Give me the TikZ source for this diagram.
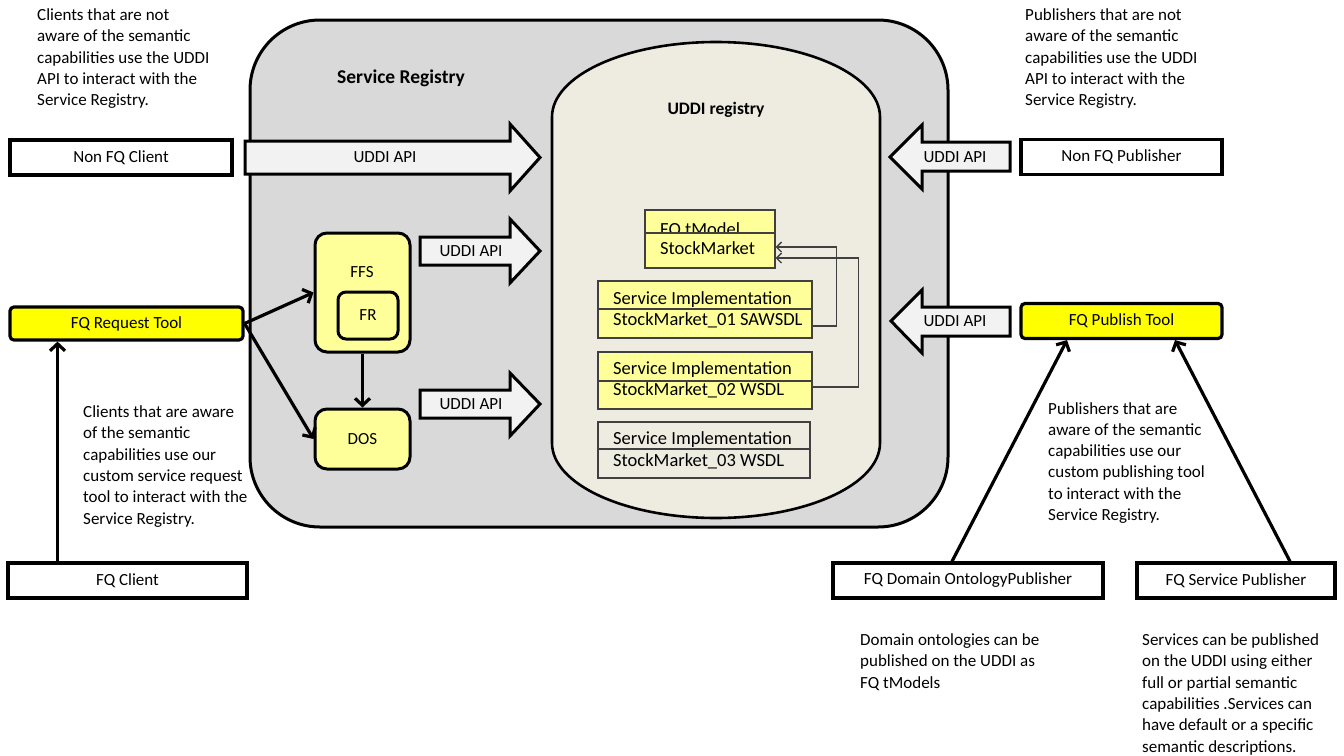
\documentclass[tikz,border=0pt]{standalone}
\usepackage{fontspec}
\setmainfont{Carlito}
\usepackage{tikz}
\usetikzlibrary{arrows.meta}

\definecolor{regGray}{HTML}{D9D9D9}
\definecolor{canFill}{HTML}{EEECE1}
\definecolor{procYellow}{HTML}{FFFF99}
\definecolor{toolYellow}{HTML}{FFFF00}
\definecolor{arrowFill}{HTML}{F2F2F2}
\definecolor{entryGray}{HTML}{404040}

\begin{document}
\begin{tikzpicture}[x=1pt,y=-1pt,
  every node/.style={font=\fontsize{17}{21.3}\selectfont},
  actor/.style={draw=black, line width=3.2pt, fill=white, minimum height=35pt, inner sep=0pt},
  tool/.style={actor, fill=toolYellow, rounded corners=4pt},
  proc/.style={draw=black, line width=3pt, fill=procYellow, rounded corners=12pt, inner sep=0pt},
  entry/.style={draw=entryGray, line width=1.3pt, fill=procYellow, minimum width=214pt, minimum height=57pt, inner sep=0pt},
  entrytext/.style={anchor=base west, inner sep=0pt, font=\fontsize{18.5}{20}\selectfont},
  note/.style={anchor=north west, align=left, inner sep=0pt},
  flow/.style={line width=3.2pt, -{Straight Barb[length=7pt,width=15pt]}},
  link/.style={draw=entryGray, line width=1.3pt, -{Straight Barb[length=5pt,width=10pt]}},
  apiarrow/.style={draw=black, line width=3pt, fill=arrowFill, line join=miter}]

\useasboundingbox (0,0) rectangle (1344,755);

% service registry
\filldraw[draw=black, line width=3pt, fill=regGray, rounded corners=70pt] (250,20) rectangle (948,527);
\node[font=\bfseries\fontsize{19.5}{22}\selectfont] (reglbl) at (401,78) {Service Registry};

% UDDI registry can
\filldraw[draw=black, line width=2.6pt, fill=canFill] (552,117) -- (552,443)
  arc[start angle=180, end angle=360, x radius=164pt, y radius=75pt] -- (880,117)
  arc[start angle=0, end angle=180, x radius=164pt, y radius=75pt] -- cycle;
\node[font=\bfseries\fontsize{17.5}{20}\selectfont] (canlbl) at (716,110) {UDDI registry};

% UDDI API arrows
\filldraw[apiarrow] (245,141) -- (510,141) -- (510,124) -- (540,157.5) -- (510,191) -- (510,174) -- (245,174) -- cycle;
\node (api1) at (385,157.5) {UDDI API};
\filldraw[apiarrow] (420,237) -- (510,237) -- (510,219) -- (540,251) -- (510,283) -- (510,265) -- (420,265) -- cycle;
\node (api2) at (471,251) {UDDI API};
\filldraw[apiarrow] (420,390) -- (510,390) -- (510,373) -- (540,404) -- (510,436) -- (510,418) -- (420,418) -- cycle;
\node (api3) at (471,404) {UDDI API};
\filldraw[apiarrow] (1010,142) -- (922,142) -- (922,125) -- (890,157) -- (922,189) -- (922,171) -- (1010,171) -- cycle;
\node (api4) at (955,157) {UDDI API};
\filldraw[apiarrow] (1010,307) -- (922,307) -- (922,290) -- (891,321) -- (922,353) -- (922,336) -- (1010,336) -- cycle;
\node (api5) at (955,321) {UDDI API};

% entries of the registry
\node[entry, minimum width=130pt, minimum height=58pt] (tmodel) at (710,239) {};
\begin{scope}
  \clip (645,210) rectangle (775,233);
  \node[anchor=north west, inner sep=0pt, font=\fontsize{18.5}{20}\selectfont] (tmodellbl) at (660,222) {FQ tModel};
\end{scope}
\draw[entryGray, line width=1.3pt] (645,233) -- (775,233);
\node[entrytext] (tmodelname) at (660,254) {StockMarket};

\node[entry] (impl1) at (705,309.5) {};
\draw[entryGray, line width=1.3pt] (598,309) -- (812,309);
\node[entrytext] (impl1top) at (613,304) {Service Implementation};
\node[entrytext] (impl1name) at (613,325) {StockMarket\_01 SAWSDL};

\node[entry] (impl2) at (705,380.5) {};
\draw[entryGray, line width=1.3pt] (598,381) -- (812,381);
\node[entrytext] (impl2top) at (613,374) {Service Implementation};
\node[entrytext] (impl2name) at (613,395) {StockMarket\_02 WSDL};

\node[entry, fill=canFill, minimum width=212pt, minimum height=56pt] (impl3) at (704,450) {};
\draw[entryGray, line width=1.3pt] (598,449) -- (810,449);
\node[entrytext] (impl3top) at (613,444) {Service Implementation};
\node[entrytext] (impl3name) at (613,466) {StockMarket\_03 WSDL};

\draw[link] ([yshift=-16.5pt]impl1.east) -- ++(24,0) |- ([yshift=-8pt]tmodel.east);
\draw[link] ([yshift=-6.5pt]impl2.east) -- ++(46,0) |- ([yshift=-19pt]tmodel.east);

% FFS, FR and DOS
\node[proc, minimum width=95pt, minimum height=119pt] (ffs) at (362.5,292.5) {};
\node (ffslbl) at (362,272) {FFS};
\node[proc, rounded corners=8pt, minimum width=60pt, minimum height=47pt] (fr) at (368,315.5) {FR};
\node[proc, minimum width=95pt, minimum height=60pt] (dos) at (362.5,439) {DOS};

% clients and publishers
\node[actor, minimum width=222pt] (nonclient) at (121,157.5) {Non FQ Client};
\node[tool, minimum width=233pt, minimum height=33pt] (reqtool) at (126.5,323.5) {FQ Request Tool};
\node[actor, minimum width=239pt] (fqclient) at (127.5,580.5) {FQ Client};
\node[actor, minimum width=201pt] (nonpub) at (1121.5,157) {Non FQ Publisher};
\node[tool, minimum width=201pt] (pubtool) at (1121.5,321) {FQ Publish Tool};
\node[actor, minimum width=270pt] (ontopub) at (968,580.5) {FQ Domain OntologyPublisher};
\node[actor, minimum width=198pt] (servpub) at (1236,580.5) {FQ Service Publisher};

\draw[flow] (reqtool.east) -- (ffs.west);
\draw[flow] (reqtool.east) -- (dos.west);
\draw[flow] (ffs.south) -- (dos.north);
\coordinate (reqfoot) at ([xshift=-69pt]reqtool.south);
\draw[flow] (fqclient.north -| reqfoot) -- (reqfoot);
\draw[flow] ([xshift=-16pt]ontopub.north) -- ([xshift=-54.5pt]pubtool.south);
\draw[flow] ([xshift=54pt]servpub.north) -- ([xshift=53.5pt]pubtool.south);

% notes
\node[note] (clientnote) at (37,8.5) {Clients that are not\\aware of the semantic\\capabilities use the UDDI\\API to interact with the\\Service Registry.};
\node[note] (pubnote) at (1025,8.5) {Publishers that are not\\aware of the semantic\\capabilities use the UDDI\\API to interact with the\\Service Registry.};
\node[note] (fqclientnote) at (83,405.5) {Clients that are aware\\of the semantic\\capabilities use our\\custom service request\\tool to interact with the\\Service Registry.};
\node[note] (fqpubnote) at (1048,402) {Publishers that are\\aware of the semantic\\capabilities use our\\custom publishing tool\\to interact with the\\Service Registry.};
\node[note] (ontonote) at (860,633.5) {Domain ontologies can be\\published on the UDDI as\\FQ tModels};
\node[note] (servnote) at (1142,633.5) {Services can be published\\on  the UDDI using either\\full or partial semantic\\capabilities .Services can\\have default or a specific\\semantic descriptions.};

\end{tikzpicture}
\end{document}
